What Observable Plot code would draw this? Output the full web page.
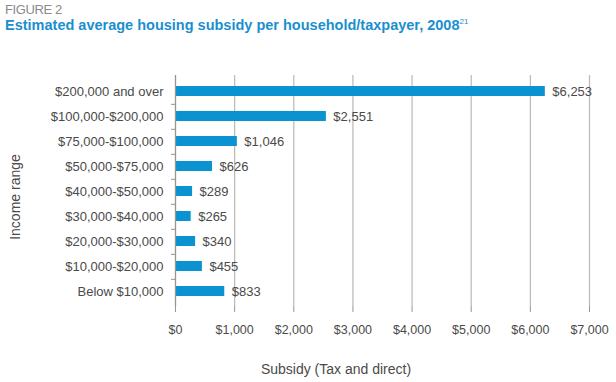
<!DOCTYPE html>
<html><head><meta charset="utf-8">
<script src="https://cdn.jsdelivr.net/npm/d3@7"></script>
<script src="https://cdn.jsdelivr.net/npm/@observablehq/plot@0.6"></script>
<style>
html,body{margin:0;padding:0;background:#fff;}
body{width:616px;height:382px;position:relative;font-family:"Liberation Sans",Arial,sans-serif;overflow:hidden;}
#fig{position:absolute;left:5px;top:2px;font-size:13px;color:#8a8a8a;letter-spacing:-0.4px;}
#title{position:absolute;left:5px;top:17px;font-size:14.5px;font-weight:bold;color:#1a8fcf;white-space:nowrap;}
#title sup{font-size:8px;font-weight:normal;vertical-align:6px;}
#chart{position:absolute;left:0;top:40px;}
#xlab{position:absolute;top:361px;left:0;width:672px;text-align:center;font-size:14px;color:#4a4a4a;}
#ylab{position:absolute;left:15px;top:197px;transform:translate(-50%,-50%) rotate(-90deg);font-size:14px;color:#4a4a4a;white-space:nowrap;}
</style></head>
<body>
<div id="fig">FIGURE 2</div>
<div id="title">Estimated average housing subsidy per household/taxpayer, 2008<sup>21</sup></div>
<div id="chart"></div>
<div id="xlab">Subsidy (Tax and direct)</div>
<div id="ylab">Income range</div>
<script>
const categories = ["$200,000 and over","$100,000-$200,000","$75,000-$100,000","$50,000-$75,000","$40,000-$50,000","$30,000-$40,000","$20,000-$30,000","$10,000-$20,000","Below $10,000"];
const subsidy = [6253, 2551, 1046, 626, 289, 265, 340, 455, 833];
const xTicks = [0,1000,2000,3000,4000,5000,6000,7000];

const data = categories.map((c,i)=>({cat:c, v:subsidy[i]}));
const fmt = d => "$" + d3.format(",")(d);

const W = 616, H = 305, mT = 35, mB = 39, mL = 175, mR = 27;
const step = (H - mT - mB) / categories.length;
const text = "#4a4a4a", grid = "#bdb8b0";

const plot = Plot.plot({
  width: W, height: H,
  marginTop: mT, marginBottom: mB, marginLeft: mL, marginRight: mR,
  style: {fontFamily: '"Liberation Sans", Arial, sans-serif', fontSize: "13px", color: text, background: "#fff"},
  x: {domain: [0, 7000]},
  y: {domain: categories, paddingInner: 0.6, paddingOuter: 0.3},
  marks: [
    Plot.gridX(xTicks, {stroke: grid, strokeOpacity: 1, strokeWidth: 1.2}),
    Plot.ruleY([0], {frameAnchor: "top", stroke: "#d6d2cc"}),
    Plot.barX(data, {y: "cat", x: "v", fill: "#0a93d0"}),
    Plot.text(data, {y: "cat", x: "v", text: d => fmt(d.v), textAnchor: "start", dx: 7, fill: text, fontSize: 13}),
    Plot.axisX(xTicks, {tickFormat: fmt, tickSize: 6, tickPadding: 13, stroke: "#9a958d", fill: text, fontSize: 12.5, label: null}),
    Plot.ruleY([0], {frameAnchor: "bottom", stroke: "#9a958d", strokeWidth: 1.5}),
    Plot.ruleX([0], {stroke: "#9a958d", strokeWidth: 1.2}),
    Plot.axisY(categories.slice(0, -1), {tickSize: 4, dy: step / 2, text: null, stroke: "#9a958d", label: null}),
    Plot.axisY({tickSize: 0, tickPadding: 12, fill: text, fontSize: 13, label: null})
  ]
});
document.getElementById("chart").appendChild(plot);
</script>
</body></html>
